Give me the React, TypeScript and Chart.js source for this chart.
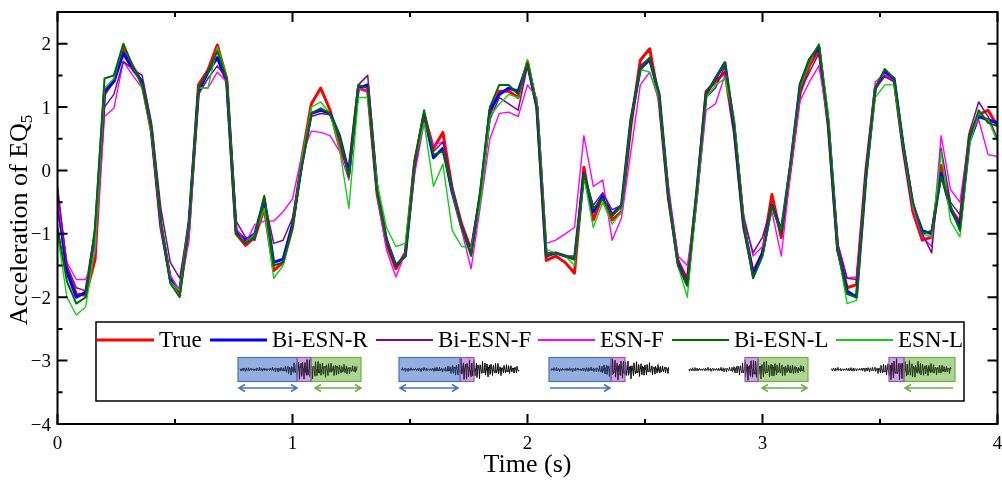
import React, { useEffect, useRef } from "react";
import { Chart, registerables } from "chart.js";

Chart.register(...registerables);

// sampling grid: one sample every 0.04 s from 0 to 4 s
const TIME = Array.from({ length: 101 }, (_, i) => Math.round(i * 4) / 100);

const TRUE_VALUES = [
  -0.50, -1.55, -1.95, -1.97, -1.40, 1.20, 1.42, 1.92, 1.65, 1.38,
  0.60, -0.90, -1.70, -1.93, -0.90, 1.35, 1.58, 1.98, 1.45, -1.00,
  -1.18, -1.05, -0.60, -1.58, -1.45, -0.90, 0.20, 1.05, 1.30, 0.95,
  0.37, 0.00, 1.30, 1.25, -0.37, -1.15, -1.55, -1.30, 0.15, 0.88,
  0.35, 0.60, -0.30, -0.85, -1.25, -0.40, 0.90, 1.25, 1.25, 1.15,
  1.72, 1.00, -1.42, -1.35, -1.45, -1.62, 0.05, -0.78, -0.40, -0.78,
  -0.65, 0.70, 1.74, 1.92, 1.10, -0.45, -1.42, -1.72, -0.40, 1.25,
  1.40, 1.55, 0.60, -0.90, -1.60, -1.30, -0.38, -1.06, 0.05, 1.22,
  1.65, 1.92, 0.70, -1.25, -1.85, -1.80, 0.00, 1.30, 1.52, 1.42,
  0.30, -0.65, -1.10, -1.05, 0.08, -0.60, -0.82, 0.55, 0.88, 0.95,
  0.70,
];

const BI_ESN_R = [
  -0.45, -1.60, -2.00, -1.92, -1.00, 1.25, 1.40, 1.85, 1.60, 1.40,
  0.65, -0.85, -1.72, -1.90, -0.80, 1.25, 1.55, 1.78, 1.40, -0.95,
  -1.10, -1.00, -0.45, -1.45, -1.40, -0.85, 0.10, 0.90, 0.95, 0.90,
  0.55, -0.05, 1.30, 1.35, -0.30, -1.10, -1.50, -1.35, 0.10, 0.88,
  0.20, 0.35, -0.35, -0.90, -1.30, -0.35, 0.95, 1.20, 1.30, 1.25,
  1.68, 1.00, -1.35, -1.30, -1.35, -1.40, -0.05, -0.65, -0.40, -0.70,
  -0.55, 0.80, 1.60, 1.75, 1.20, -0.40, -1.45, -1.80, -0.35, 1.20,
  1.45, 1.70, 0.65, -0.85, -1.65, -1.30, -0.55, -0.95, 0.10, 1.35,
  1.75, 1.95, 0.75, -1.25, -1.90, -2.00, -0.10, 1.30, 1.55, 1.45,
  0.35, -0.55, -0.95, -1.00, -0.05, -0.60, -0.90, 0.45, 0.85, 0.80,
  0.75,
];

const BI_ESN_F = [
  -0.25, -1.50, -1.85, -1.90, -1.10, 1.00, 1.20, 1.72, 1.60, 1.50,
  0.75, -0.60, -1.45, -1.70, -0.80, 1.20, 1.45, 1.65, 1.45, -0.80,
  -1.05, -1.10, -0.45, -1.15, -1.10, -0.75, 0.05, 0.85, 0.90, 0.88,
  0.50, -0.10, 1.35, 1.50, -0.20, -1.05, -1.50, -1.35, 0.05, 0.82,
  0.30, 0.45, -0.25, -0.85, -1.30, -0.40, 0.80, 1.15, 1.05, 0.95,
  1.65, 1.05, -1.30, -1.30, -1.35, -1.35, -0.05, -0.55, -0.35, -0.62,
  -0.55, 0.75, 1.65, 1.78, 1.15, -0.35, -1.40, -1.75, -0.30, 1.15,
  1.30, 1.65, 0.80, -0.75, -1.30, -1.05, -0.55, -0.95, 0.10, 1.25,
  1.55, 1.85, 0.80, -1.15, -1.70, -1.72, -0.05, 1.30, 1.48, 1.40,
  0.40, -0.50, -1.00, -1.30, 0.35, -0.50, -0.70, 0.60, 1.08, 0.85,
  0.50,
];

const ESN_F = [
  -0.45, -1.45, -1.72, -1.72, -1.30, 0.85, 0.98, 1.72, 1.50, 1.30,
  0.60, -0.90, -1.65, -1.90, -1.10, 1.30, 1.30, 1.55, 1.40, -0.90,
  -1.15, -0.85, -0.80, -0.80, -0.65, -0.45, 0.25, 0.62, 0.60, 0.55,
  0.30, -0.15, 1.30, 1.25, -0.40, -1.25, -1.68, -1.30, -0.05, 0.75,
  0.40, 0.45, -0.35, -0.95, -1.55, -0.55, 0.50, 0.90, 0.92, 0.85,
  1.35, 1.15, -1.15, -1.10, -1.00, -0.90, 0.55, -0.25, -0.15, -1.10,
  -0.75, 0.30, 1.35, 1.55, 1.10, -0.25, -1.35, -1.50, -0.50, 0.95,
  1.05, 1.50, 0.75, -0.70, -1.35, -1.20, -0.65, -1.35, 0.00, 1.10,
  1.40, 1.65, 0.75, -1.15, -1.70, -1.68, -0.10, 1.40, 1.52, 1.40,
  0.35, -0.60, -1.05, -1.20, 0.55, -0.30, -0.50, 0.55, 0.80, 0.25,
  0.22,
];

const BI_ESN_L = [
  -0.90, -1.75, -2.10, -2.00, -0.90, 1.45, 1.50, 2.00, 1.65, 1.35,
  0.65, -0.80, -1.78, -2.00, -0.85, 1.30, 1.55, 1.88, 1.45, -1.00,
  -1.15, -1.05, -0.40, -1.50, -1.45, -0.90, 0.10, 0.90, 0.98, 0.90,
  0.55, -0.10, 1.35, 1.30, -0.35, -1.10, -1.50, -1.35, 0.15, 0.95,
  0.25, 0.30, -0.30, -0.90, -1.35, -0.30, 1.00, 1.35, 1.35, 1.20,
  1.70, 1.00, -1.35, -1.30, -1.35, -1.40, -0.05, -0.60, -0.45, -0.72,
  -0.55, 0.80, 1.60, 1.78, 1.20, -0.40, -1.50, -1.82, -0.35, 1.20,
  1.45, 1.70, 0.70, -0.85, -1.70, -1.35, -0.55, -1.00, 0.15, 1.35,
  1.75, 1.98, 0.75, -1.25, -1.95, -2.00, -0.15, 1.30, 1.60, 1.45,
  0.40, -0.50, -1.00, -0.95, -0.10, -0.55, -0.95, 0.50, 0.95, 0.75,
  0.70,
];

const ESN_L = [
  -1.00, -2.00, -2.28, -2.15, -1.20, 1.30, 1.45, 1.98, 1.65, 1.30,
  0.60, -0.80, -1.75, -1.90, -0.80, 1.30, 1.30, 1.95, 1.50, -1.00,
  -1.15, -1.00, -0.60, -1.70, -1.50, -0.90, 0.20, 1.00, 1.08, 0.90,
  0.35, -0.60, 1.15, 1.15, -0.20, -0.90, -1.20, -1.15, 0.15, 0.75,
  -0.25, 0.10, -0.95, -1.20, -1.22, -0.50, 0.85, 1.05, 1.20, 1.15,
  1.75, 1.05, -1.25, -1.30, -1.35, -1.50, -0.10, -0.90, -0.50, -0.85,
  -0.65, 0.80, 1.60, 1.55, 1.15, -0.40, -1.50, -2.00, -0.45, 1.15,
  1.35, 1.45, 0.80, -0.80, -1.70, -1.35, -0.60, -0.95, 0.15, 1.30,
  1.70, 2.00, 0.90, -1.25, -2.10, -2.05, -0.10, 1.15, 1.35, 1.35,
  0.35, -0.55, -1.00, -1.05, 0.30, -0.80, -1.05, 0.40, 0.90, 0.80,
  0.45,
];

const SERIES_NAMES = ["True", "Bi-ESN-R", "Bi-ESN-F", "ESN-F", "Bi-ESN-L", "ESN-L"];
const SERIES_VALUES = [TRUE_VALUES, BI_ESN_R, BI_ESN_F, ESN_F, BI_ESN_L, ESN_L];
const SERIES_COLORS = ["#ff0000", "#0000ff", "#7a0a8c", "#ff00ff", "#006a00", "#10d010"];
const SERIES_WIDTHS = [3, 3, 1.5, 1.4, 2, 1.4];
const SERIES_ORDER = [6, 5, 3, 4, 1, 2];

const X_TICKS = [0, 1, 2, 3, 4];
const X_MINOR = [0.5, 1.5, 2.5, 3.5];
const Y_TICKS = [-4, -3, -2, -1, 0, 1, 2];
const Y_MINOR = [-3.5, -2.5, -1.5, -0.5, 0.5, 1.5];

const SERIF = "'Liberation Serif', 'Times New Roman', serif";

function fmt(v: number) {
  return v < 0 ? "\u2212" + Math.abs(v) : String(v);
}

function drawWave(ctx: CanvasRenderingContext2D, x0: number, x1: number, cy: number, amp: (x: number) => number) {
  ctx.beginPath();
  for (let x = x0; x <= x1; x += 0.5) {
    const s = Math.sin(x * 2.9) * 0.6 + Math.sin(x * 7.3 + 1.0) * 0.4;
    const y = cy + amp(x) * s;
    if (x === x0) ctx.moveTo(x, y);
    else ctx.lineTo(x, y);
  }
  ctx.stroke();
}

function arrow(ctx: CanvasRenderingContext2D, x0: number, x1: number, y: number, color: string, left: boolean, right: boolean) {
  ctx.save();
  ctx.strokeStyle = color;
  ctx.lineWidth = 1.5;
  ctx.beginPath();
  ctx.moveTo(x0, y);
  ctx.lineTo(x1, y);
  if (left) {
    ctx.moveTo(x0 + 6, y - 3.5);
    ctx.lineTo(x0, y);
    ctx.lineTo(x0 + 6, y + 3.5);
  }
  if (right) {
    ctx.moveTo(x1 - 6, y - 3.5);
    ctx.lineTo(x1, y);
    ctx.lineTo(x1 - 6, y + 3.5);
  }
  ctx.stroke();
  ctx.restore();
}

type Diagram = {
  pre: [number, number];
  ev: [number, number];
  post: [number, number];
  blue: boolean;
  green: boolean;
  arrows: { x0: number; x1: number; color: string; left: boolean; right: boolean }[];
};

const BLUE_C = "#4472c4";
const GREEN_C = "#70ad47";

const DIAGRAMS: Diagram[] = [
  { pre: [238, 297], ev: [297, 311], post: [311, 361], blue: true, green: true,
    arrows: [{ x0: 239, x1: 297, color: BLUE_C, left: true, right: true }, { x0: 315, x1: 361, color: GREEN_C, left: true, right: true }] },
  { pre: [399, 460], ev: [460, 474], post: [474, 523], blue: true, green: false,
    arrows: [{ x0: 400, x1: 458, color: BLUE_C, left: true, right: true }] },
  { pre: [549, 611], ev: [611, 625], post: [625, 673], blue: true, green: false,
    arrows: [{ x0: 550, x1: 610, color: BLUE_C, left: false, right: true }] },
  { pre: [687, 745], ev: [745, 758], post: [758, 808], blue: false, green: true,
    arrows: [{ x0: 762, x1: 807, color: GREEN_C, left: true, right: true }] },
  { pre: [829, 889], ev: [889, 904], post: [904, 955], blue: false, green: true,
    arrows: [{ x0: 905, x1: 953, color: GREEN_C, left: true, right: false }] },
];

function drawDiagram(ctx: CanvasRenderingContext2D, d: Diagram) {
  const top = 357.5, h = 24, cy = 369.5;
  ctx.save();
  if (d.blue) {
    ctx.fillStyle = "#93aedf";
    ctx.fillRect(d.pre[0], top, d.pre[1] - d.pre[0], h);
  }
  ctx.fillStyle = "#cda6e0";
  ctx.fillRect(d.ev[0], top, d.ev[1] - d.ev[0], h);
  if (d.green) {
    ctx.fillStyle = "#add492";
    ctx.fillRect(d.post[0], top, d.post[1] - d.post[0], h);
  }
  ctx.lineWidth = 1;
  ctx.strokeStyle = d.blue ? "#1c2a4a" : "#111";
  drawWave(ctx, d.pre[0] + 2, d.pre[1], cy, (x) => {
    const u = (x - d.pre[0]) / (d.pre[1] - d.pre[0]);
    return 1.0 + 1.2 * Math.abs(Math.sin(u * Math.PI * 4)) + 7 * Math.pow(u, 6);
  });
  ctx.strokeStyle = "#2a1030";
  drawWave(ctx, d.ev[0], d.ev[1], cy, () => 11);
  ctx.strokeStyle = d.green ? "#1e3414" : "#000";
  drawWave(ctx, d.post[0], d.post[1] - 4, cy, (x) => {
    const u = (x - d.post[0]) / (d.post[1] - d.post[0]);
    return 7 * (1 - u) + 2.2 + 1.2 * Math.abs(Math.sin(u * Math.PI * 5));
  });
  ctx.lineWidth = 1.2;
  if (d.blue) {
    ctx.strokeStyle = BLUE_C;
    ctx.strokeRect(d.pre[0], top, d.pre[1] - d.pre[0], h);
  }
  if (d.green) {
    ctx.strokeStyle = GREEN_C;
    ctx.strokeRect(d.post[0], top, d.post[1] - d.post[0], h);
  }
  ctx.strokeStyle = "#8e5bb8";
  ctx.strokeRect(d.ev[0], top, d.ev[1] - d.ev[0], h);
  ctx.restore();
  for (const a of d.arrows) arrow(ctx, a.x0, a.x1, 388, a.color, a.left, a.right);
}

const LEGEND_X = [97, 210, 376, 538, 672, 836];

const framePlugin = {
  id: "frameAxes",
  afterDraw(chart: any) {
    const { ctx, chartArea: a, scales } = chart;
    const xs = scales.x, ys = scales.y;
    ctx.save();
    // frame
    ctx.strokeStyle = "#000";
    ctx.lineWidth = 2;
    ctx.strokeRect(a.left, a.top, a.right - a.left, a.bottom - a.top);
    // ticks
    ctx.beginPath();
    const tick = (len: number, vals: number[], horiz: boolean) => {
      for (const v of vals) {
        if (horiz) {
          const p = xs.getPixelForValue(v);
          ctx.moveTo(p, a.bottom); ctx.lineTo(p, a.bottom - len);
          ctx.moveTo(p, a.top); ctx.lineTo(p, a.top + len);
        } else {
          const p = ys.getPixelForValue(v);
          ctx.moveTo(a.left, p); ctx.lineTo(a.left + len, p);
          ctx.moveTo(a.right, p); ctx.lineTo(a.right - len, p);
        }
      }
    };
    tick(10, X_TICKS, true);
    tick(5, X_MINOR, true);
    tick(10, Y_TICKS, false);
    tick(5, Y_MINOR, false);
    ctx.stroke();

    // tick labels
    ctx.fillStyle = "#000";
    ctx.font = `19px ${SERIF}`;
    ctx.textAlign = "center";
    ctx.textBaseline = "alphabetic";
    for (const v of X_TICKS) ctx.fillText(fmt(v), xs.getPixelForValue(v), 449);
    ctx.textAlign = "right";
    for (const v of Y_TICKS) ctx.fillText(fmt(v), 51, ys.getPixelForValue(v) + 6.5);

    // axis titles
    ctx.font = `26px ${SERIF}`;
    ctx.textAlign = "center";
    ctx.fillText("Time (s)", (a.left + a.right) / 2, 472);
    ctx.save();
    ctx.translate(27, (a.top + a.bottom) / 2 + 2);
    ctx.rotate(-Math.PI / 2);
    ctx.textAlign = "left";
    const main = "Acceleration of EQ";
    ctx.font = `26px ${SERIF}`;
    const wMain = ctx.measureText(main).width;
    ctx.font = `17px ${SERIF}`;
    const wSub = ctx.measureText("5").width;
    const start = -(wMain + wSub) / 2;
    ctx.font = `26px ${SERIF}`;
    ctx.fillText(main, start, 0);
    ctx.font = `17px ${SERIF}`;
    ctx.fillText("5", start + wMain, 5);
    ctx.restore();

    // legend box
    ctx.fillStyle = "#fff";
    ctx.fillRect(96, 322, 868, 79);
    ctx.strokeStyle = "#000";
    ctx.lineWidth = 1.5;
    ctx.strokeRect(96, 322, 868, 79);
    ctx.font = `23px ${SERIF}`;
    ctx.textAlign = "left";
    SERIES_NAMES.forEach((name, i) => {
      const x = LEGEND_X[i];
      ctx.strokeStyle = SERIES_COLORS[i];
      ctx.lineWidth = Math.max(2, SERIES_WIDTHS[i]);
      ctx.beginPath();
      ctx.moveTo(x, 340);
      ctx.lineTo(x + 57, 340);
      ctx.stroke();
      ctx.fillStyle = "#000";
      ctx.fillText(name, x + 62, 347);
    });
    for (const d of DIAGRAMS) drawDiagram(ctx, d);
    ctx.restore();
  },
};

export default function App() {
  const ref = useRef<HTMLCanvasElement>(null);
  useEffect(() => {
    if (!ref.current) return;
    const chart = new Chart(ref.current, {
      type: "line",
      data: {
        datasets: SERIES_NAMES.map((name, i) => ({
          label: name,
          data: TIME.map((t, k) => ({ x: t, y: SERIES_VALUES[i][k] })),
          borderColor: SERIES_COLORS[i],
          backgroundColor: SERIES_COLORS[i],
          borderWidth: SERIES_WIDTHS[i],
          pointRadius: 0,
          fill: false,
          tension: 0,
          order: SERIES_ORDER[i],
          borderJoinStyle: "round" as const,
        })),
      },
      options: {
        responsive: false,
        animation: false,
        layout: { padding: { left: 57.5, right: 4.5, top: 12, bottom: 56 } },
        plugins: { legend: { display: false }, tooltip: { enabled: false } },
        scales: {
          x: { type: "linear", min: 0, max: 4, display: false },
          y: { type: "linear", min: -4, max: 2.5, display: false },
        },
      },
      plugins: [framePlugin],
    });
    return () => chart.destroy();
  }, []);
  return (
    <div style={{ position: "fixed", left: 0, top: 0, width: 1002, height: 480, background: "#fff" }}>
      <canvas ref={ref} width={1002} height={480} style={{ display: "block" }} />
    </div>
  );
}
